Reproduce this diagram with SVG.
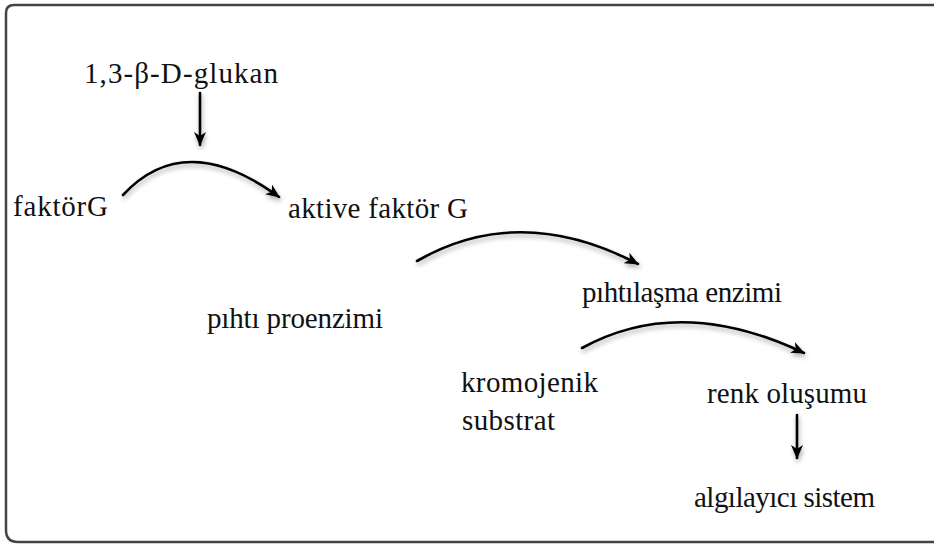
<svg xmlns="http://www.w3.org/2000/svg" width="934" height="545" viewBox="0 0 934 545">
  <style>
    .t { font-family: 'Liberation Serif', 'DejaVu Serif', serif; font-size: 29px; fill: #111; }
    .c { fill: none; stroke: #000; stroke-width: 2.6; stroke-linecap: round; marker-end: url(#ah); filter: url(#sh); }
  </style>
  <defs>
    <marker id="ah" markerUnits="userSpaceOnUse" markerWidth="16" markerHeight="12" refX="13" refY="6" orient="auto">
      <path d="M0,0 L14,6 L0,12 L4,6 z" fill="#000"/>
    </marker>
    <filter id="sh" filterUnits="userSpaceOnUse" x="0" y="0" width="934" height="545">
      <feGaussianBlur in="SourceAlpha" stdDeviation="2.5"/>
      <feOffset dx="1" dy="3" result="b"/>
      <feComponentTransfer><feFuncA type="linear" slope="0.35"/></feComponentTransfer>
      <feMerge><feMergeNode/><feMergeNode in="SourceGraphic"/></feMerge>
    </filter>
  </defs>
  <rect width="934" height="545" fill="#fff"/>
  <path d="M934,5 H14 Q6,5 6,13 V530 Q6,542 18,542 H934" fill="none" stroke="#444" stroke-width="2.5"/>

  <g id="connectors">
    <path class="c" d="M200,93 V145"/>
    <path class="c" d="M123,195 Q185,128 279,197"/>
    <path class="c" d="M417,261 Q520,202 638,264"/>
    <path class="c" d="M582,348 Q680,294 804,353"/>
    <path class="c" d="M797,415 V458"/>
  </g>

  <g id="glukan"><text class="t" x="84" y="83" textLength="194" lengthAdjust="spacing">1,3-β-D-glukan</text></g>
  <g id="faktorG"><text class="t" x="13" y="216" textLength="95" lengthAdjust="spacing">faktörG</text></g>
  <g id="aktiveFaktorG"><text class="t" x="288" y="218" textLength="180" lengthAdjust="spacing">aktive faktör G</text></g>
  <g id="pihtiProenzimi"><text class="t" x="207" y="328" textLength="176" lengthAdjust="spacing">pıhtı proenzimi</text></g>
  <g id="pihtilasmaEnzimi"><text class="t" x="582" y="302" textLength="200" lengthAdjust="spacing">pıhtılaşma enzimi</text></g>
  <g id="kromojenik"><text class="t" x="461" y="392" textLength="137" lengthAdjust="spacing">kromojenik</text><text class="t" x="462" y="430" textLength="93" lengthAdjust="spacing">substrat</text></g>
  <g id="renkOlusumu"><text class="t" x="707" y="403" textLength="160" lengthAdjust="spacing">renk oluşumu</text></g>
  <g id="algilayici"><text class="t" x="694" y="507" textLength="181" lengthAdjust="spacing">algılayıcı sistem</text></g>
</svg>
